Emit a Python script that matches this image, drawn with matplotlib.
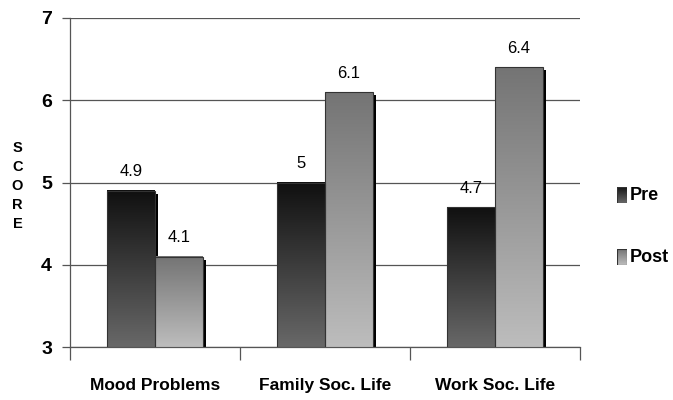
import numpy as np
import matplotlib
matplotlib.use("Agg")
import matplotlib.pyplot as plt
import matplotlib.transforms as mtransforms
from matplotlib.colors import LinearSegmentedColormap
from matplotlib.patches import Rectangle

# data
categories = ["Mood Problems", "Family Soc. Life", "Work Soc. Life"]
pre = [4.9, 5.0, 4.7]
post = [4.1, 6.1, 6.4]
pre_labels = ["4.9", "5", "4.7"]
post_labels = ["4.1", "6.1", "6.4"]
series = ["Pre", "Post"]
ylabel = "SCORE"

plt.rcParams['font.family'] = ['Liberation Sans', 'DejaVu Sans']

# gradients (top -> bottom)
cmap_pre = LinearSegmentedColormap.from_list("pre", ["#101010", "#686868"])
cmap_post = LinearSegmentedColormap.from_list("post", ["#747474", "#bdbdbd"])
grad = np.linspace(0, 1, 256).reshape(-1, 1)

fig = plt.figure(figsize=(6.73, 4.0), dpi=100)
ax = fig.add_axes([0.104, 0.1325, 0.758, 0.8225])

x = np.arange(len(categories))
w = 0.28

# little drop shadow: 3px right, 3px down
shadow_tr = mtransforms.offset_copy(ax.transData, fig=fig, x=3, y=-3, units='dots')

for vals, off, cmap, labs in [(pre, -w / 2, cmap_pre, pre_labels),
                              (post, w / 2, cmap_post, post_labels)]:
    ax.bar(x + off, np.array(vals) - 3, w, bottom=3, color="black",
           transform=shadow_tr, zorder=2)
    bars = ax.bar(x + off, np.array(vals) - 3, w, bottom=3, color="none",
                  edgecolor="#333333", linewidth=0.8, zorder=4)
    for b, lab in zip(bars, labs):
        x0, y0 = b.get_x(), b.get_y()
        x1, y1 = x0 + b.get_width(), y0 + b.get_height()
        ax.imshow(grad, cmap=cmap, extent=[x0, x1, y0, y1], aspect='auto',
                  zorder=3, interpolation='bilinear')
        ax.text((x0 + x1) / 2, y1 + 0.14, lab, ha='center', va='bottom',
                fontsize=12, color="black")

ax.set_xlim(-0.5, 2.5)
ax.set_ylim(3, 7)
ax.set_yticks([3, 4, 5, 6, 7])
ax.yaxis.grid(True, color="#555555", linewidth=0.9)
ax.set_axisbelow(True)

ax.set_xticks(x)
ax.set_xticklabels(categories, fontsize=12.5, fontweight='bold')
ax.tick_params(axis='x', length=0, pad=22)
ax.set_xticks([-0.5, 0.5, 1.5, 2.5], minor=True)
ax.tick_params(axis='x', which='minor', length=9, width=0.9, color="#555555")
ax.tick_params(axis='y', length=6, width=0.9, color="#555555", labelsize=14, pad=7)
for t in ax.get_yticklabels():
    t.set_fontweight('bold')

for s in ["top", "right"]:
    ax.spines[s].set_visible(False)
for s in ["left", "bottom"]:
    ax.spines[s].set_color("#555555")
    ax.spines[s].set_linewidth(0.9)

# stacked y label, one letter per line
for i, ch in enumerate(ylabel):
    fig.text(0.026, 1 - (148 + i * 19) / 400, ch, ha='center', va='center',
             fontsize=10.5, fontweight='bold')

# legend with gradient boxes
for name, cmap, ypx in zip(series, [cmap_pre, cmap_post], [195, 257]):
    yc = 1 - ypx / 400
    lax = fig.add_axes([617 / 673, yc - 0.02, 10 / 673, 0.04])
    lax.imshow(grad, cmap=cmap, aspect='auto', extent=[0, 1, 0, 1])
    lax.add_patch(Rectangle((0, 0), 1, 1, fill=False, edgecolor="#333333",
                            linewidth=0.8))
    lax.set_axis_off()
    fig.text(630 / 673, yc, name, ha='left', va='center', fontsize=13,
             fontweight='bold')

fig.savefig("out.png", dpi=100)
